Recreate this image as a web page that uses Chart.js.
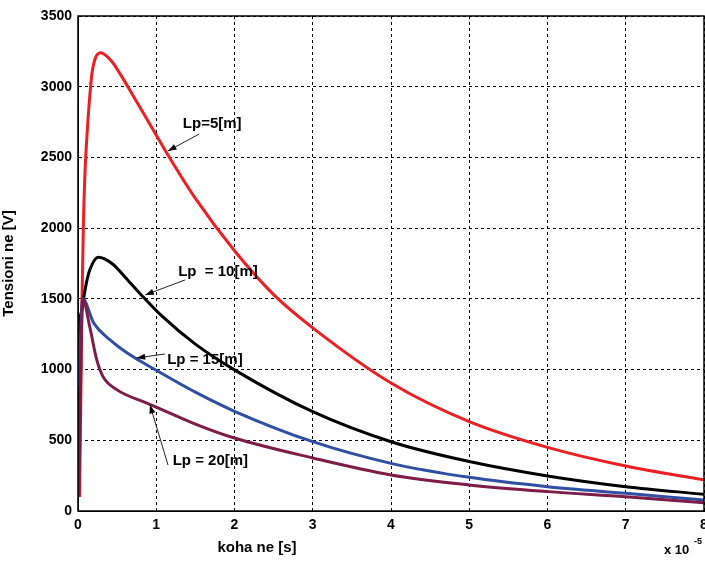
<!DOCTYPE html>
<html>
<head>
<meta charset="utf-8">
<script src="https://cdn.jsdelivr.net/npm/chart.js"></script>
<style>
  html, body { margin: 0; padding: 0; background: #fff; }
  #wrap { width: 705px; height: 561px; }
</style>
</head>
<body>
<div id="wrap"><canvas id="myChart" width="705" height="561"></canvas></div>
<script>
// koha (x 10^-5 s) dhe tensioni (V) per secilen kurbe
const redX = [0.02, 0.035, 0.05, 0.07, 0.09, 0.12, 0.15, 0.18, 0.22, 0.29, 0.43, 0.55, 0.7, 0.85, 1.13, 1.5, 2.0, 2.5, 3.0, 4.0, 5.0, 6.0, 7.0, 8.0];
const redY = [100, 750, 1450, 2050, 2400, 2700, 2930, 3100, 3200, 3240, 3180, 3080, 2940, 2800, 2535, 2210, 1840, 1530, 1295, 905, 632, 450, 318, 220];

const blackX = [0.0, 0.02, 0.05, 0.08, 0.11, 0.15, 0.26, 0.43, 0.64, 0.83, 1.06, 1.5, 2.0, 3.0, 4.0, 5.0, 6.0, 7.0, 8.0];
const blackY = [1200, 1350, 1420, 1530, 1620, 1704, 1794, 1752, 1630, 1515, 1385, 1180, 998, 702, 490, 350, 248, 172, 118];

const blueX = [0.01, 0.06, 0.2, 0.41, 0.62, 1.0, 1.5, 2.0, 3.0, 4.0, 5.0, 6.0, 7.0, 8.0];
const blueY = [880, 1500, 1330, 1210, 1120, 995, 840, 705, 490, 337, 238, 172, 125, 78];

const purpleX = [0.01, 0.06, 0.15, 0.24, 0.32, 0.49, 0.88, 1.0, 1.5, 2.0, 3.0, 4.0, 5.0, 6.0, 7.0, 8.0];
const purpleY = [100, 1500, 1303, 1068, 950, 860, 763, 735, 615, 516, 375, 255, 184, 137, 101, 59];

// shenimet: tekst, pozicioni i tekstit, fillimi dhe fundi i shigjetes (ne njesi te te dhenave)
const noteText = ['Lp=5[m]', 'Lp  = 10[m]', 'Lp = 15[m]', 'Lp = 20[m]'];
const noteAt = [[1.34, 2737], [1.28, 1690], [1.14, 1068], [1.21, 354]];
const arrowFrom = [[1.55, 2666], [1.37, 1634], [1.11, 1110], [1.15, 325]];
const arrowTo = [[1.15, 2546], [0.86, 1528], [0.75, 1082], [0.92, 750]];

function pts(xs, ys) {
    return xs.map((x, i) => ({ x: x, y: ys[i] }));
}

const FONT = '"Liberation Sans", Arial, sans-serif';

function line(label, xs, ys, color) {
    return {
        label: label,
        data: pts(xs, ys),
        borderColor: color,
        backgroundColor: color,
        borderWidth: 3,
        pointRadius: 0,
        cubicInterpolationMode: 'monotone',
        showLine: true,
        fill: false
    };
}

// kornizat, shenimet dhe titujt
const extras = {
    id: 'extras',
    afterDraw(chart) {
        const ctx = chart.ctx;
        const a = chart.chartArea;
        const xs = chart.scales.x, ys = chart.scales.y;
        ctx.save();
        ctx.strokeStyle = '#000';
        ctx.lineWidth = 1.5;
        ctx.strokeRect(a.left, a.top, a.right - a.left, a.bottom - a.top);

        ctx.fillStyle = '#000';
        ctx.font = 'bold 15px ' + FONT;
        ctx.textBaseline = 'middle';
        ctx.textAlign = 'left';
        for (let i = 0; i < noteText.length; i++) {
            ctx.fillText(noteText[i], xs.getPixelForValue(noteAt[i][0]), ys.getPixelForValue(noteAt[i][1]));
            const x1 = xs.getPixelForValue(arrowFrom[i][0]), y1 = ys.getPixelForValue(arrowFrom[i][1]);
            const x2 = xs.getPixelForValue(arrowTo[i][0]), y2 = ys.getPixelForValue(arrowTo[i][1]);
            ctx.strokeStyle = '#222';
            ctx.lineWidth = 1;
            ctx.beginPath();
            ctx.moveTo(x1, y1);
            ctx.lineTo(x2, y2);
            ctx.stroke();
            const ang = Math.atan2(y2 - y1, x2 - x1);
            ctx.beginPath();
            ctx.moveTo(x2, y2);
            ctx.lineTo(x2 - 9 * Math.cos(ang - 0.35), y2 - 9 * Math.sin(ang - 0.35));
            ctx.lineTo(x2 - 9 * Math.cos(ang + 0.35), y2 - 9 * Math.sin(ang + 0.35));
            ctx.closePath();
            ctx.fill();
        }

        // titulli i boshtit x
        ctx.font = 'bold 15px ' + FONT;
        ctx.textAlign = 'center';
        ctx.fillText('koha ne [s]', 257, 548);

        // x 10^-5
        ctx.font = 'bold 13px ' + FONT;
        ctx.textAlign = 'left';
        ctx.fillText('x 10', 664, 550);
        ctx.font = 'bold 9px ' + FONT;
        ctx.fillText('-5', 694, 542);
        ctx.restore();
    }
};

const ctx = document.getElementById('myChart').getContext('2d');
const myChart = new Chart(ctx, {
    type: 'scatter',
    data: {
        datasets: [
            line('Lp=20[m]', purpleX, purpleY, 'rgb(125, 28, 72)'),
            line('Lp=15[m]', blueX, blueY, 'rgb(48, 78, 162)'),
            line('Lp=10[m]', blackX, blackY, '#000000'),
            line('Lp=5[m]', redX, redY, 'rgb(234, 32, 36)')
        ]
    },
    options: {
        responsive: false,
        animation: false,
        layout: { padding: { top: 16, right: 1, left: 0, bottom: 0 } },
        plugins: {
            legend: { display: false },
            tooltip: { enabled: false }
        },
        scales: {
            x: {
                type: 'linear',
                min: 0,
                max: 8,
                ticks: {
                    stepSize: 1,
                    color: '#000',
                    padding: 6,
                    callback: v => String(v),
                    font: { family: FONT, size: 14, weight: 'bold' }
                },
                grid: {
                    color: '#000',
                    lineWidth: 1,
                    drawTicks: false
                },
                border: { display: true, color: '#000', dash: [3, 3] },
                afterFit(s) { s.height = 50; s.paddingRight = 0; }
            },
            y: {
                min: 0,
                max: 3500,
                ticks: {
                    stepSize: 500,
                    color: '#000',
                    padding: 6,
                    callback: v => String(v),
                    font: { family: FONT, size: 14, weight: 'bold' }
                },
                grid: {
                    color: '#000',
                    lineWidth: 1,
                    drawTicks: false
                },
                border: { display: true, color: '#000', dash: [3, 3] },
                title: {
                    display: true,
                    text: 'Tensioni ne [V]',
                    color: '#000',
                    padding: 0,
                    font: { family: FONT, size: 15, weight: 'bold' }
                },
                afterFit(s) { s.width = 78; s.paddingTop = 0; }
            }
        }
    },
    plugins: [extras]
});
</script>
</body>
</html>
